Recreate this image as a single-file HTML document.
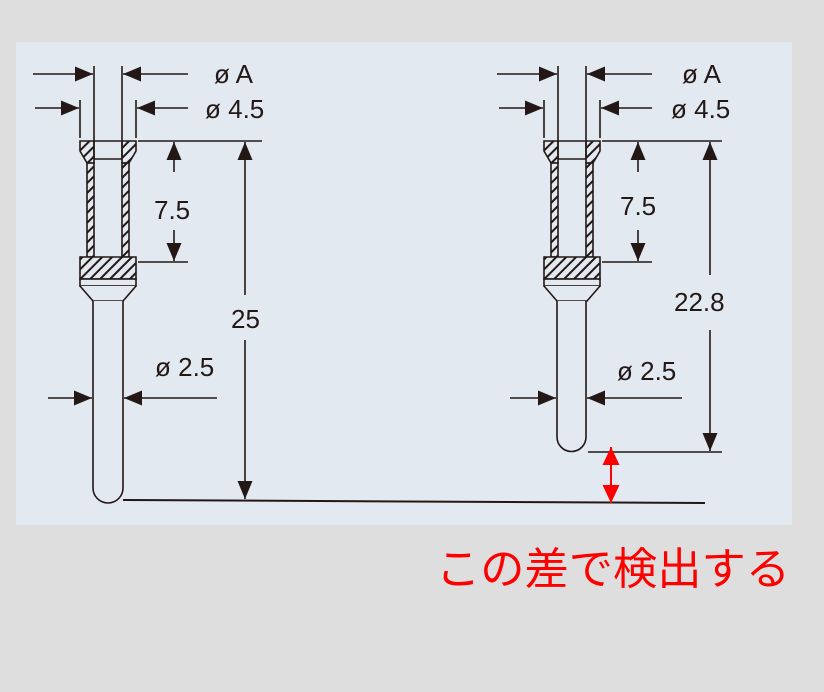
<!DOCTYPE html>
<html><head><meta charset="utf-8"><style>
html,body{margin:0;padding:0;background:#dedede;}
svg{display:block;}
text{font-family:"Liberation Sans",Arial,sans-serif;fill:#231815;}
</style></head><body>
<svg width="824" height="692" viewBox="0 0 824 692" xmlns="http://www.w3.org/2000/svg">
<defs>
<pattern id="h" width="7" height="7" patternUnits="userSpaceOnUse" patternTransform="rotate(45)">
<rect width="7" height="7" fill="#e2e9f1"/><rect width="2" height="7" fill="#231815"/>
</pattern>
<marker id="a" viewBox="0 0 10 10" refX="10" refY="5" markerWidth="18" markerHeight="15" markerUnits="userSpaceOnUse" orient="auto" preserveAspectRatio="none"><path d="M0,0 L10,5 L0,10z" fill="#231815"/></marker>
<marker id="r" viewBox="0 0 10 10" refX="10" refY="5" markerWidth="18" markerHeight="17" markerUnits="userSpaceOnUse" orient="auto" preserveAspectRatio="none"><path d="M0,0 L10,5 L0,10z" fill="#ff0000"/></marker>
<g id="head" stroke="#231815" stroke-width="1.6">
  <path d="M-28,0 L-14,0 L-14,22 L-21,22 L-28,10z" fill="url(#h)"/>
  <path d="M28,0 L14,0 L14,22 L21,22 L28,10z" fill="url(#h)"/>
  <line x1="-14" y1="0" x2="14" y2="0"/>
  <line x1="-14" y1="18" x2="14" y2="18"/>
  <rect x="-21" y="22" width="7" height="94" fill="url(#h)"/>
  <rect x="14" y="22" width="7" height="94" fill="url(#h)"/>
  <path d="M-28,116 L28,116 L28,138 L-28,138z" fill="url(#h)"/>
  <rect x="-28" y="138" width="56" height="7" fill="#e2e9f1"/>
  <path d="M-28,145 L-15,160 L15,160 L28,145" fill="#e2e9f1"/>
</g>
</defs>
<rect x="16" y="42" width="776" height="483" fill="#e2e9f1"/>

<g stroke="#231815" stroke-width="1.6" fill="none">
<use href="#head" x="108" y="141"/>
<path d="M93,301 L93,488 A15,15 0 0 0 123,488 L123,301" fill="#e2e9f1"/>
<line x1="94" y1="66" x2="94" y2="159"/><line x1="122" y1="66" x2="122" y2="159"/>
<line x1="33" y1="74" x2="93" y2="74" marker-end="url(#a)"/>
<line x1="188" y1="74" x2="123" y2="74" marker-end="url(#a)"/>
<line x1="80" y1="100" x2="80" y2="138"/><line x1="136" y1="100" x2="136" y2="138"/>
<line x1="35" y1="108" x2="79" y2="108" marker-end="url(#a)"/>
<line x1="188" y1="108" x2="137" y2="108" marker-end="url(#a)"/>
<line x1="138" y1="141" x2="262" y2="141"/>
<line x1="138" y1="262" x2="188" y2="262"/>
<line x1="174" y1="172" x2="174" y2="142" marker-end="url(#a)"/>
<line x1="174" y1="230" x2="174" y2="261" marker-end="url(#a)"/>
<line x1="245" y1="295" x2="245" y2="142" marker-end="url(#a)"/>
<line x1="245" y1="340" x2="245" y2="499" marker-end="url(#a)"/>
<line x1="123" y1="500" x2="705" y2="503" stroke-width="2"/>
<line x1="48" y1="398" x2="92" y2="398" marker-end="url(#a)"/>
<line x1="217" y1="398" x2="124" y2="398" marker-end="url(#a)"/>

<use href="#head" x="572" y="141"/>
<path d="M557,301 L557,437 A14.5,14.5 0 0 0 586,437 L586,301" fill="#e2e9f1"/>
<line x1="558" y1="66" x2="558" y2="159"/><line x1="586" y1="66" x2="586" y2="159"/>
<line x1="497" y1="74" x2="557" y2="74" marker-end="url(#a)"/>
<line x1="652" y1="74" x2="587" y2="74" marker-end="url(#a)"/>
<line x1="544" y1="100" x2="544" y2="138"/><line x1="600" y1="100" x2="600" y2="138"/>
<line x1="499" y1="108" x2="543" y2="108" marker-end="url(#a)"/>
<line x1="652" y1="108" x2="601" y2="108" marker-end="url(#a)"/>
<line x1="602" y1="141" x2="722" y2="141"/>
<line x1="602" y1="262" x2="652" y2="262"/>
<line x1="638" y1="172" x2="638" y2="142" marker-end="url(#a)"/>
<line x1="638" y1="230" x2="638" y2="261" marker-end="url(#a)"/>
<line x1="710" y1="275" x2="710" y2="142" marker-end="url(#a)"/>
<line x1="710" y1="330" x2="710" y2="451" marker-end="url(#a)"/>
<line x1="588" y1="452" x2="722" y2="452"/>
<line x1="510" y1="398" x2="556" y2="398" marker-end="url(#a)"/>
<line x1="682" y1="398" x2="587" y2="398" marker-end="url(#a)"/>

<line x1="611" y1="475" x2="611" y2="447" stroke="#ff0000" stroke-width="2" marker-end="url(#r)"/>
<line x1="611" y1="475" x2="611" y2="503" stroke="#ff0000" stroke-width="2" marker-end="url(#r)"/>
</g>

<g font-size="26">
<text x="214" y="83">ø A</text>
<text x="205" y="118">ø 4.5</text>
<text x="154" y="219">7.5</text>
<text x="231" y="328">25</text>
<text x="155" y="376">ø 2.5</text>
<text x="682" y="83">ø A</text>
<text x="671" y="118">ø 4.5</text>
<text x="620" y="215">7.5</text>
<text x="674" y="311">22.8</text>
<text x="617" y="380">ø 2.5</text>
</g>
<text x="436" y="584" font-size="44" textLength="354" lengthAdjust="spacingAndGlyphs" style="fill:#ff0000;font-family:'Liberation Sans','Noto Sans CJK JP',sans-serif;">この差で検出する</text>
</svg>
</body></html>
